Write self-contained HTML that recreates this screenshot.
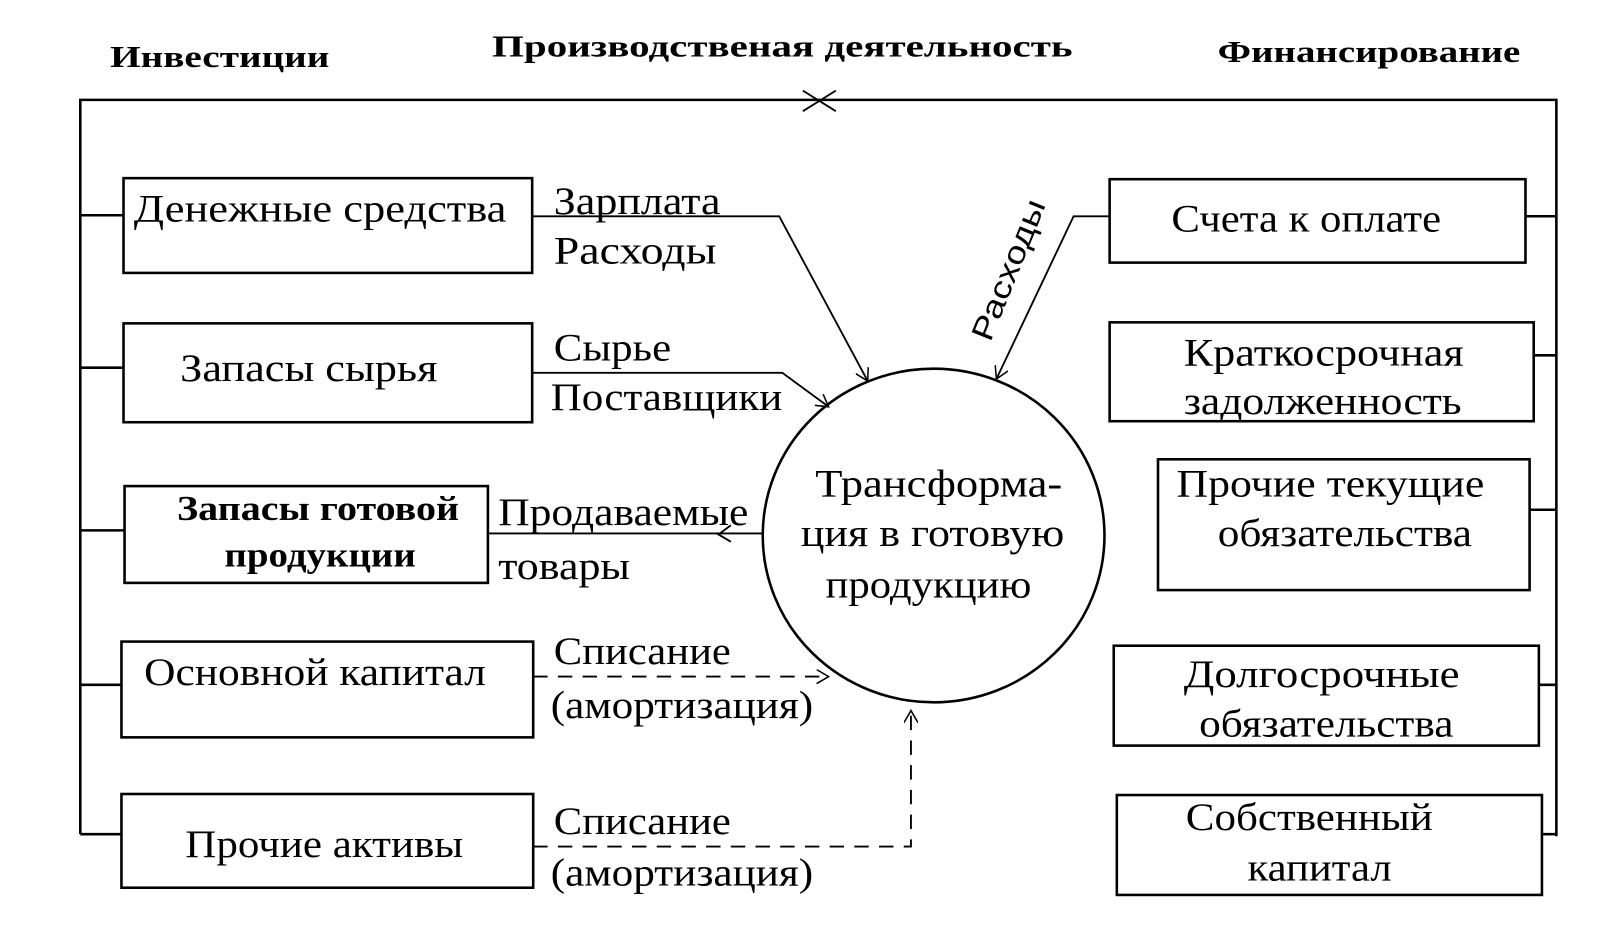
<!DOCTYPE html>
<html><head><meta charset="utf-8"><style>
html,body{margin:0;padding:0;background:#fff;}
svg{display:block;}
text{font-family:"Liberation Serif","DejaVu Serif",serif;fill:#000;}
.b{font-size:38px;}
.t{font-size:30px;font-weight:bold;}
.s{font-family:"Liberation Sans","DejaVu Sans",sans-serif;}
</style></head><body>
<svg width="1614" height="932" viewBox="0 0 1568 905" preserveAspectRatio="none" xmlns="http://www.w3.org/2000/svg">
<defs><marker id="a" markerWidth="14" markerHeight="14" refX="12" refY="7" orient="auto" markerUnits="userSpaceOnUse"><path d="M0,0 L12,7 L0,14" fill="none" stroke="#000" stroke-width="1.5"/></marker></defs>
<g stroke="#000" fill="none" stroke-width="2.5">
<polyline points="78,810 78,97 1512,97 1512,812"/>
<line x1="78" y1="209" x2="120" y2="209"/><line x1="78" y1="357" x2="120" y2="357"/>
<line x1="78" y1="515" x2="121" y2="515"/><line x1="78" y1="665" x2="118" y2="665"/>
<line x1="78" y1="810" x2="118" y2="810"/>
<rect x="120" y="173" width="397" height="92"/><rect x="120" y="314" width="397" height="96"/>
<rect x="121" y="472" width="353" height="94"/><rect x="118" y="623" width="400" height="93"/>
<rect x="118" y="771" width="400" height="91"/>
<rect x="1078" y="174" width="404" height="81"/><rect x="1078" y="313" width="412" height="96"/>
<rect x="1125" y="446" width="361" height="127"/><rect x="1082" y="627" width="413" height="97"/>
<rect x="1085" y="772" width="413" height="97"/>
<line x1="1482" y1="210" x2="1512" y2="210"/><line x1="1490" y1="345" x2="1512" y2="345"/>
<line x1="1486" y1="495" x2="1512" y2="495"/><line x1="1495" y1="665" x2="1512" y2="665"/>
<line x1="1498" y1="810" x2="1512" y2="810"/>
<ellipse cx="907" cy="520" rx="166" ry="162"/>
</g>
<g stroke="#000" fill="none" stroke-width="1.8">
<line x1="780" y1="88" x2="812" y2="108"/><line x1="780" y1="108" x2="812" y2="88"/>
<polyline points="517,210 757,210 843,370" marker-end="url(#a)"/>
<polyline points="517,362 760,362 805,395" marker-end="url(#a)"/>
<line x1="474" y1="518" x2="740" y2="518"/>
<polyline points="710,510 698,519 710,526"/>
<polyline points="1078,210 1043,210 968,368" marker-end="url(#a)"/>
<polyline points="518,657 805,657" stroke-dasharray="14,10" marker-end="url(#a)"/>
<polyline points="518,822 885,822 885,690" stroke-dasharray="14,10" marker-end="url(#a)"/>
</g>
<text class="t" x="107" y="65" textLength="213" lengthAdjust="spacingAndGlyphs">Инвестиции</text>
<text class="t" x="478" y="55" textLength="564" lengthAdjust="spacingAndGlyphs">Производственая деятельность</text>
<text class="t" x="1183" y="60" textLength="294" lengthAdjust="spacingAndGlyphs">Финансирование</text>
<g class="b">
<text x="130" y="215" textLength="362" lengthAdjust="spacingAndGlyphs">Денежные средства</text>
<text x="175" y="370" textLength="250" lengthAdjust="spacingAndGlyphs">Запасы сырья</text>
<text x="172" y="505" textLength="274" lengthAdjust="spacingAndGlyphs" font-weight="bold" font-size="34">Запасы готовой</text>
<text x="218" y="550" textLength="186" lengthAdjust="spacingAndGlyphs" font-weight="bold" font-size="34">продукции</text>
<text x="140" y="665" textLength="332" lengthAdjust="spacingAndGlyphs">Основной капитал</text>
<text x="180" y="832" textLength="270" lengthAdjust="spacingAndGlyphs">Прочие активы</text>
<text x="1138" y="225" textLength="262" lengthAdjust="spacingAndGlyphs">Счета к оплате</text>
<text x="1150" y="355" textLength="272" lengthAdjust="spacingAndGlyphs">Краткосрочная</text>
<text x="1150" y="402" textLength="270" lengthAdjust="spacingAndGlyphs">задолженность</text>
<text x="1143" y="482" textLength="299" lengthAdjust="spacingAndGlyphs">Прочие текущие</text>
<text x="1183" y="530" textLength="247" lengthAdjust="spacingAndGlyphs">обязательства</text>
<text x="1150" y="667" textLength="268" lengthAdjust="spacingAndGlyphs">Долгосрочные</text>
<text x="1165" y="715" textLength="247" lengthAdjust="spacingAndGlyphs">обязательства</text>
<text x="1152" y="806" textLength="240" lengthAdjust="spacingAndGlyphs">Собственный</text>
<text x="1212" y="855" textLength="140" lengthAdjust="spacingAndGlyphs">капитал</text>
<text x="792" y="482" textLength="240" lengthAdjust="spacingAndGlyphs">Трансформа-</text>
<text x="778" y="530" textLength="256" lengthAdjust="spacingAndGlyphs">ция в готовую</text>
<text x="802" y="580" textLength="200" lengthAdjust="spacingAndGlyphs">продукцию</text>
<text x="538" y="208" textLength="162" lengthAdjust="spacingAndGlyphs">Зарплата</text>
<text x="538" y="256" textLength="158" lengthAdjust="spacingAndGlyphs">Расходы</text>
<text x="538" y="350" textLength="114" lengthAdjust="spacingAndGlyphs">Сырье</text>
<text x="535" y="398" textLength="225" lengthAdjust="spacingAndGlyphs">Поставщики</text>
<text x="484" y="510" textLength="243" lengthAdjust="spacingAndGlyphs">Продаваемые</text>
<text x="484" y="562" textLength="128" lengthAdjust="spacingAndGlyphs">товары</text>
<text x="538" y="645" textLength="172" lengthAdjust="spacingAndGlyphs">Списание</text>
<text x="535" y="697" textLength="255" lengthAdjust="spacingAndGlyphs">(амортизация)</text>
<text x="538" y="810" textLength="172" lengthAdjust="spacingAndGlyphs">Списание</text>
<text x="535" y="860" textLength="255" lengthAdjust="spacingAndGlyphs">(амортизация)</text>
</g>
<text class="s" x="0" y="0" font-family="Liberation Sans, DejaVu Sans, sans-serif" font-size="30" transform="translate(962,333) rotate(-68)" textLength="145" lengthAdjust="spacingAndGlyphs">Расходы</text>
</svg>
</body></html>
